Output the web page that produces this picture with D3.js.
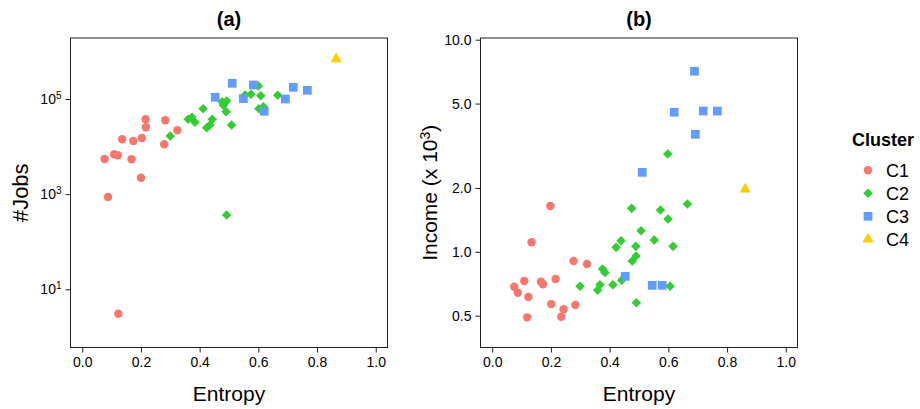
<!DOCTYPE html>
<html>
<head>
<meta charset="utf-8">
<script src="https://cdn.jsdelivr.net/npm/d3@7"></script>
<style>
  html, body { margin: 0; padding: 0; background: #fff; }
  svg { display: block; }
  text { font-family: "Liberation Sans", Arial, Helvetica, sans-serif; fill: #000; }
</style>
</head>
<body>
<svg id="chart" width="920" height="409"></svg>
<script>
// ---------------- DATA ----------------
const clusters = ["C1", "C2", "C3", "C4"];
const clusterColors = ["#F8766D", "#33CC33", "#619CFF", "#FFCC00"];

// Panel (a): entropy vs number of jobs
const jobsEntropy = [
  0.076, 0.088, 0.109, 0.121, 0.123, 0.136, 0.168, 0.174, 0.200, 0.203, 0.216, 0.217, 0.279, 0.283, 0.324,
  0.300, 0.361, 0.374, 0.384, 0.412, 0.424, 0.435, 0.443, 0.477, 0.492, 0.481, 0.490, 0.509, 0.555, 0.575,
  0.600, 0.608, 0.602, 0.617, 0.666, 0.492,
  0.453, 0.511, 0.549, 0.583, 0.620, 0.692, 0.719, 0.767,
  0.865
];
const jobsCount = [
  5480, 871, 6890, 6560, 3.08, 14220, 5410, 13090, 2220, 15140, 37410, 25410, 11170, 35650, 21980,
  16670, 37410, 41210, 32360, 62520, 24950, 28440, 37410, 87700, 90780, 73790, 54080, 28440, 121300, 125600,
  187500, 117200, 62520, 68870, 119700, 365,
  108600, 213800, 101400, 196800, 55080, 100000, 176200, 152400,
  693400
];
const jobsCluster = [
  "C1","C1","C1","C1","C1","C1","C1","C1","C1","C1","C1","C1","C1","C1","C1",
  "C2","C2","C2","C2","C2","C2","C2","C2","C2","C2","C2","C2","C2","C2","C2",
  "C2","C2","C2","C2","C2","C2",
  "C3","C3","C3","C3","C3","C3","C3","C3",
  "C4"
];

// Panel (b): entropy vs income (x 10^3)
const incomeEntropy = [
  0.075, 0.087, 0.109, 0.119, 0.123, 0.134, 0.166, 0.173, 0.198, 0.201, 0.216, 0.235, 0.243, 0.277, 0.283, 0.323,
  0.299, 0.367, 0.359, 0.376, 0.384, 0.411, 0.422, 0.441, 0.439, 0.489, 0.477, 0.490, 0.475, 0.507, 0.491,
  0.552, 0.573, 0.599, 0.598, 0.616, 0.606, 0.665,
  0.689, 0.620, 0.719, 0.767, 0.692, 0.511, 0.453, 0.545, 0.579,
  0.862
];
const incomeValue = [
  0.684, 0.641, 0.728, 0.491, 0.612, 1.109, 0.723, 0.703, 1.644, 0.567, 0.745, 0.494, 0.536, 0.905, 0.561, 0.876,
  0.688, 0.700, 0.660, 0.830, 0.800, 0.700, 1.050, 0.734, 1.128, 1.061, 0.905, 0.955, 1.603, 1.257, 0.575,
  1.137, 1.574, 1.428, 2.892, 1.061, 0.688, 1.681,
  7.10, 4.55, 4.61, 4.61, 3.58, 2.37, 0.766, 0.695, 0.695,
  1.971
];
const incomeCluster = [
  "C1","C1","C1","C1","C1","C1","C1","C1","C1","C1","C1","C1","C1","C1","C1","C1",
  "C2","C2","C2","C2","C2","C2","C2","C2","C2","C2","C2","C2","C2","C2","C2",
  "C2","C2","C2","C2","C2","C2","C2",
  "C3","C3","C3","C3","C3","C3","C3","C3","C3",
  "C4"
];

const xTicks = [0, 0.2, 0.4, 0.6, 0.8, 1.0];
const jobsTicks = [10, 1000, 100000];
const jobsTickExp = ["1", "3", "5"];
const incomeTicks = [0.5, 1, 2, 5, 10];
const incomeTickLabels = ["0.5", "1.0", "2.0", "5.0", "10.0"];

// ---------------- DRAWING ----------------
const svg = d3.select("#chart");
const plotTop = 38, plotBottom = 347.5;
const color = d3.scaleOrdinal().domain(clusters).range(clusterColors);

function symbolPath(c) {
  if (c === "C1") return d3.symbol(d3.symbolCircle, 56)();
  if (c === "C2") return d3.symbol(d3.symbolSquare, 46)();
  if (c === "C3") return d3.symbol(d3.symbolSquare, 76)();
  return d3.symbol(d3.symbolTriangle, 54)();
}
function symbolRot(c) { return c === "C2" ? " rotate(45)" : ""; }

function panel(opts) {
  const g = svg.append("g");
  const x = d3.scaleLinear().domain([-0.04, 1.04]).range([opts.left, opts.right]);
  const y = opts.y;

  // title
  g.append("text").attr("x", (opts.left + opts.right) / 2).attr("y", 26)
    .attr("text-anchor", "middle").style("font-size", "20px").style("font-weight", "bold")
    .text(opts.title);

  // x axis
  const xa = g.append("g").attr("transform", `translate(0,${plotBottom})`)
    .call(d3.axisBottom(x).tickValues(xTicks).tickFormat(d3.format(".1f")).tickSize(5).tickPadding(5));
  xa.select(".domain").remove();
  xa.selectAll("line").attr("stroke", "#222");
  xa.selectAll("text").style("font-size", "14px").style("font-family", "'Liberation Sans', Arial, sans-serif");

  // y axis
  const ya = g.append("g").attr("transform", `translate(${opts.left},0)`)
    .call(d3.axisLeft(y).tickValues(opts.yTicks).tickSize(5).tickPadding(4));
  ya.select(".domain").remove();
  ya.selectAll("line").attr("stroke", "#222");
  ya.selectAll("text").style("font-size", "14px").style("font-family", "'Liberation Sans', Arial, sans-serif");
  opts.labelTicks(ya.selectAll(".tick text"));

  // frame
  g.append("rect").attr("x", opts.left).attr("y", plotTop)
    .attr("width", opts.right - opts.left).attr("height", plotBottom - plotTop)
    .attr("fill", "none").attr("stroke", "#222").attr("stroke-width", 1);

  // x label
  g.append("text").attr("x", (opts.left + opts.right) / 2).attr("y", 401)
    .attr("text-anchor", "middle").style("font-size", "21px").text("Entropy");

  // y label
  opts.yLabel(g);

  // points
  const data = opts.ex.map((e, i) => ({ e, v: opts.vals[i], c: opts.cl[i] }));
  g.append("g").selectAll("path").data(data).join("path")
    .attr("d", d => symbolPath(d.c))
    .attr("transform", d => `translate(${x(d.e)},${y(d.v)})` + symbolRot(d.c))
    .attr("fill", d => color(d.c));
}

// Panel (a)
panel({
  title: "(a)", left: 70.5, right: 387.5,
  y: d3.scaleLog().domain([Math.pow(10, -0.223), Math.pow(10, 6.282)]).range([plotBottom, plotTop]),
  yTicks: jobsTicks,
  labelTicks: sel => sel.each(function(d, i) {
    const t = d3.select(this).text("");
    t.append("tspan").text("10");
    t.append("tspan").attr("dy", "-0.5em").style("font-size", "10px").text(jobsTickExp[i]);
  }),
  yLabel: g => g.append("text").attr("transform", "translate(28,192.75) rotate(-90)")
    .attr("text-anchor", "middle").style("font-size", "22px").text("#Jobs"),
  ex: jobsEntropy, vals: jobsCount, cl: jobsCluster
});

// Panel (b)
panel({
  title: "(b)", left: 480.5, right: 797.5,
  y: d3.scaleLog().domain([Math.pow(10, -0.451), Math.pow(10, 1.008)]).range([plotBottom, plotTop]),
  yTicks: incomeTicks,
  labelTicks: sel => sel.text((d, i) => incomeTickLabels[i]),
  yLabel: g => {
    const t = g.append("text").attr("transform", "translate(437,192.75) rotate(-90)")
      .attr("text-anchor", "middle").style("font-size", "21px");
    t.append("tspan").text("Income (x 10");
    t.append("tspan").attr("dy", "-0.5em").style("font-size", "14px").text("3");
    t.append("tspan").attr("dy", "0.35em").text(")");
  },
  ex: incomeEntropy, vals: incomeValue, cl: incomeCluster
});

// Legend
const leg = svg.append("g");
leg.append("text").attr("x", 852).attr("y", 146).style("font-size", "18px").style("font-weight", "bold").text("Cluster");
clusters.forEach((c, i) => {
  const cy = 170.3 + i * 23;
  leg.append("path").attr("d", symbolPath(c))
    .attr("transform", `translate(868,${cy})` + symbolRot(c)).attr("fill", color(c));
  leg.append("text").attr("x", 886).attr("y", cy + 7).style("font-size", "18px").text(c);
});
</script>
</body>
</html>
